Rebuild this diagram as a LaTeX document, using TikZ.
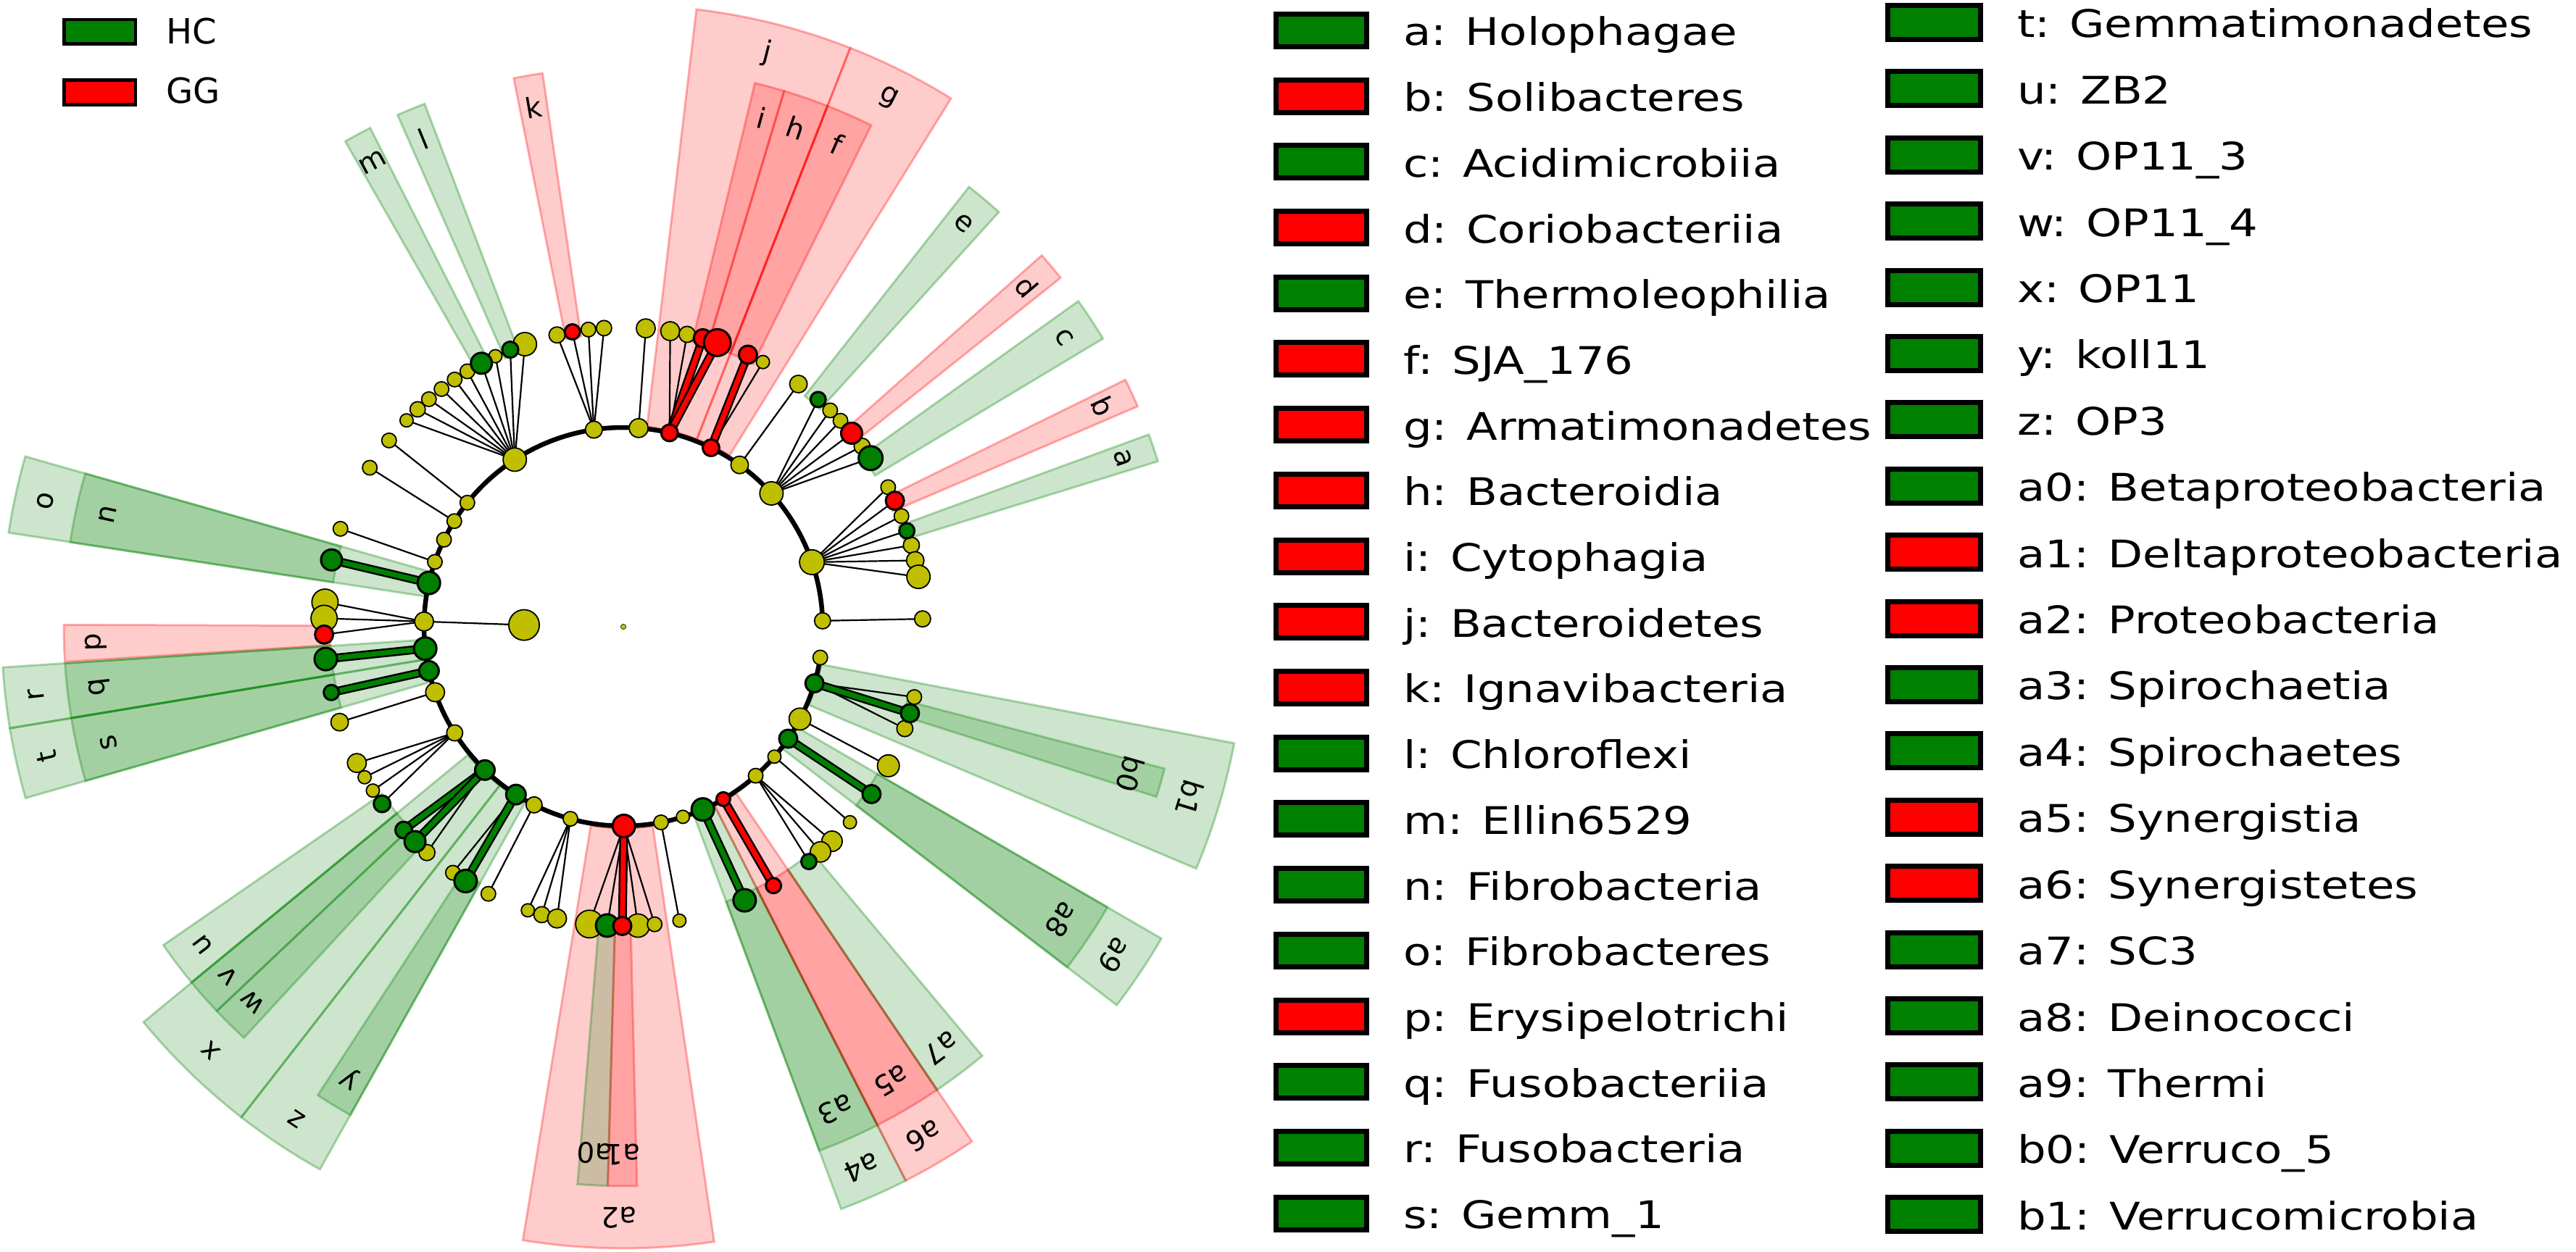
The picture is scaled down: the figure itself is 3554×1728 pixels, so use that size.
\documentclass[tikz,border=0pt]{standalone}
\usepackage{fontspec}
\setmainfont{DejaVu Sans}
\newfontfamily\legfont[FakeStretch=1.19]{DejaVu Sans}
\definecolor{ylw}{RGB}{191,191,0}
\definecolor{grn}{RGB}{0,128,0}
\definecolor{rd0}{RGB}{255,0,0}
\pgfdeclarelayer{wedges}
\pgfdeclarelayer{edges}
\pgfsetlayers{wedges,edges,main}
\tikzset{
  nd/.style={circle, draw=black, inner sep=0pt, outer sep=0pt},
  yn/.style={nd, fill=ylw, line width=1.8pt, minimum size={2*#1-1.8}},
  gn/.style={nd, fill=grn, line width=3pt, minimum size={2*#1-3}},
  rn/.style={nd, fill=rd0, line width=3pt, minimum size={2*#1-3}},
  tedge/.style={draw=black, line width=2.2pt},
  sigbar/.style={draw=black, line width=12pt, postaction={draw=#1, line width=7pt}},
  cladelabel/.style={font=\fontsize{39}{45}\selectfont, inner sep=0pt},
  legtext/.style={font=\legfont\fontsize{52.5}{60}\selectfont, anchor=base west, inner sep=0pt},
  legboxa/.style={rectangle, draw=black, line width=7pt, fill=#1, inner sep=0pt, minimum width=125pt, minimum height=45pt},
  legboxb/.style={rectangle, draw=black, line width=7pt, fill=#1, inner sep=0pt, minimum width=128pt, minimum height=47pt},
  grpbox/.style={rectangle, draw=black, line width=4.6pt, fill=#1, inner sep=0pt, minimum width=98.8pt, minimum height=33.6pt},
  grptext/.style={font=\fontsize{48}{55}\selectfont, anchor=base west, inner sep=0pt},
}
% #1 label, #2 start angle, #3 end angle, #4 inner radius, #5 outer radius, #6 colour, #7 label radius
\newcommand\clade[7]{%
  \filldraw[fill=#6, fill opacity=0.2, draw=#6, draw opacity=0.3, line width=3pt]
    (#2:#4pt) -- (#2:#5pt) arc[start angle=#2, end angle=#3, radius=#5pt]
    -- (#3:#4pt) arc[start angle=#3, end angle=#2, radius=#4pt] -- cycle;
  \pgfmathsetmacro\cmid{(#2+#3)/2}
  \pgfmathsetmacro\crot{\cmid-90}
  \node[cladelabel, rotate=\crot] (lab#1) at (\cmid:#7pt) {#1};
}
\begin{document}
\begin{tikzpicture}[x=1pt,y=1pt]
\useasboundingbox (-860,-863) rectangle (2694,865);

% ---------- nodes: root and kingdom ----------
\node[yn=4.5, line width=0.6pt] (root) at (0,0) {};
\node[yn=22] (K) at (179:137pt) {};

% ---------- phylum nodes (r = 275) ----------
\node[yn=12]   (P01) at (1.7:275pt) {};
\node[yn=18]   (P02) at (18.9:275pt) {};
\node[yn=17]   (P03) at (42:275pt) {};
\node[yn=13]   (P04) at (54.3:275pt) {};
\node[yn=14]   (P07) at (85.6:275pt) {};
\node[yn=12.6] (P08) at (98.5:275pt) {};
\node[yn=17]   (P09) at (123:275pt) {};
\node[yn=11]   (P10) at (141.5:275pt) {};
\node[yn=11]   (P11) at (148:275pt) {};
\node[yn=11]   (P12) at (154.1:275pt) {};
\node[yn=11]   (P13) at (161:275pt) {};
\node[yn=14]   (P15) at (178.5:275pt) {};
\node[yn=14]   (P18) at (199.2:275pt) {};
\node[yn=12]   (P19) at (212.2:275pt) {};
\node[yn=12]   (P22) at (243.4:275pt) {};
\node[yn=11]   (P23) at (254.6:275pt) {};
\node[yn=11]   (P25) at (280.9:275pt) {};
\node[yn=10]   (P26) at (287.4:275pt) {};
\node[yn=11]   (P29) at (311.6:275pt) {};
\node[yn=10]   (P30) at (319.3:275pt) {};
\node[yn=16]   (P32) at (332.4:275pt) {};
\node[yn=11]   (P34) at (351.1:275pt) {};
\node[rn=13]   (P05) at (63.9:275pt) {};
\node[rn=13]   (P06) at (76.6:275pt) {};
\node[gn=17]   (P14) at (167.3:275pt) {};
\node[gn=17]   (P16) at (186.3:275pt) {};
\node[gn=15]   (P17) at (192.8:275pt) {};
\node[gn=15]   (P20) at (226:275pt) {};
\node[gn=15]   (P21) at (237.4:275pt) {};
\node[rn=17]   (P24) at (270.15:275pt) {};
\node[gn=17]   (P27) at (293.5:275pt) {};
\node[rn=11]   (P28) at (300.1:275pt) {};
\node[gn=14]   (P31) at (325.8:275pt) {};
\node[gn=14]   (P33) at (343.5:275pt) {};

% ---------- class nodes (r = 413): non-significant ----------
\node[yn=12] (C01a) at (1.5:413pt) {};
\node[yn=11] (C02a) at (27.8:413pt) {};
\node[yn=11] (C02c) at (21.7:413pt) {};
\node[yn=12] (C02e) at (15.8:413pt) {};
\node[yn=13] (C02f) at (12.8:413pt) {};
\node[yn=17] (C02g) at (9.6:413pt) {};
\node[yn=11] (C03b) at (46.3:413pt) {};
\node[yn=11] (C03c) at (43.5:413pt) {};
\node[yn=12] (C03e) at (37.1:413pt) {};
\node[yn=13] (C04a) at (54.2:413pt) {};
\node[yn=10] (C05b) at (62.2:413pt) {};
\node[yn=14] (C06a) at (81:413pt) {};
\node[yn=12] (C06b) at (77.7:413pt) {};
\node[yn=14] (C07a) at (85.7:413pt) {};
\node[yn=12] (C08a) at (102.8:413pt) {};
\node[yn=11] (C08c) at (96.7:413pt) {};
\node[yn=11.5] (C08d) at (93.7:413pt) {};
\node[yn=10] (C09a) at (136.4:413pt) {};
\node[yn=11.5] (C09b) at (133.4:413pt) {};
\node[yn=11] (C09c) at (130.5:413pt) {};
\node[yn=11] (C09d) at (127.4:413pt) {};
\node[yn=11] (C09e) at (124.3:413pt) {};
\node[yn=11] (C09f) at (121.4:413pt) {};
\node[yn=10] (C09h) at (115.3:413pt) {};
\node[yn=17] (C09j) at (109.2:413pt) {};
\node[yn=11] (C10a) at (141.5:413pt) {};
\node[yn=11] (C11a) at (147.9:413pt) {};
\node[yn=11] (C13a) at (160.9:413pt) {};
\node[yn=19] (C15a) at (175.3:413pt) {};
\node[yn=19] (C15b) at (178.4:413pt) {};
\node[yn=13] (C18a) at (198.6:413pt) {};
\node[yn=14] (C19a) at (207.1:413pt) {};
\node[yn=10] (C19b) at (210.2:413pt) {};
\node[yn=10] (C19c) at (213.2:413pt) {};
\node[yn=12] (C20c) at (229:413pt) {};
\node[yn=11] (C21a) at (235.3:413pt) {};
\node[yn=11] (C22a) at (243.2:413pt) {};
\node[yn=10] (C23a) at (251.4:413pt) {};
\node[yn=12] (C23b) at (254.2:413pt) {};
\node[yn=14] (C23c) at (257.2:413pt) {};
\node[yn=20] (C24a) at (263.5:413pt) {};
\node[yn=17] (C24d) at (272.8:413pt) {};
\node[yn=11] (C24e) at (276:413pt) {};
\node[yn=10] (C25a) at (280.8:413pt) {};
\node[yn=15] (C29a) at (314.2:413pt) {};
\node[yn=15] (C29b) at (311.2:413pt) {};
\node[yn=10] (C30a) at (319.2:413pt) {};
\node[yn=16] (C32a) at (332.3:413pt) {};
\node[yn=11] (C33a) at (346.4:413pt) {};
\node[yn=12] (C33c) at (340.1:413pt) {};
% significant classes
\node[gn=12]   (C02d) at (18.7:413pt) {};
\node[gn=12]   (C03a) at (49.4:413pt) {};
\node[gn=18]   (C03f) at (34.3:413pt) {};
\node[gn=16]   (C09g) at (118.3:413pt) {};
\node[gn=12.6] (C09i) at (112.2:413pt) {};
\node[gn=16]   (C14a) at (167.1:413pt) {};
\node[gn=17]   (C16a) at (186.2:413pt) {};
\node[gn=12]   (C17a) at (192.7:413pt) {};
\node[gn=13]   (C19d) at (216.3:413pt) {};
\node[gn=13]   (C20a) at (222.8:413pt) {};
\node[gn=16]   (C20b) at (225.9:413pt) {};
\node[gn=17]   (C21b) at (238.2:413pt) {};
\node[gn=17]   (C24b) at (266.9:413pt) {};
\node[gn=17]   (C27a) at (293.9:413pt) {};
\node[gn=12]   (C29c) at (308.3:413pt) {};
\node[gn=14]   (C31a) at (326:413pt) {};
\node[gn=14]   (C33b) at (343.2:413pt) {};
\node[rn=14]   (C02b) at (24.9:413pt) {};
\node[rn=16]   (C03d) at (40.3:413pt) {};
\node[rn=14]   (C05a) at (65.4:413pt) {};
\node[rn=14]   (C06c) at (74.6:413pt) {};
\node[rn=20]   (C06d) at (71.7:413pt) {};
\node[rn=12]   (C08b) at (99.8:413pt) {};
\node[rn=14]   (C15c) at (181.5:413pt) {};
\node[rn=14]   (C24c) at (269.8:413pt) {};
\node[rn=12]   (C28a) at (300.1:413pt) {};

% ---------- connectors ----------
\begin{pgfonlayer}{edges}
  \draw[line width=6.5pt] (P01.center) arc[start angle=1.7, end angle=351.1, radius=275pt];
  \draw[tedge] (K.center) -- (P15.center);
  \foreach \a/\b in {P01/C01a,
      P02/C02a, P02/C02b, P02/C02c, P02/C02d, P02/C02e, P02/C02f, P02/C02g,
      P03/C03a, P03/C03b, P03/C03c, P03/C03d, P03/C03e, P03/C03f,
      P04/C04a, P05/C05b, P06/C06a, P06/C06b, P07/C07a,
      P08/C08a, P08/C08b, P08/C08c, P08/C08d,
      P09/C09a, P09/C09b, P09/C09c, P09/C09d, P09/C09e, P09/C09f, P09/C09g, P09/C09h, P09/C09i, P09/C09j,
      P10/C10a, P11/C11a, P13/C13a,
      P15/C15a, P15/C15b, P15/C15c, P18/C18a,
      P19/C19a, P19/C19b, P19/C19c, P19/C19d,
      P20/C20c, P21/C21a, P22/C22a,
      P23/C23a, P23/C23b, P23/C23c,
      P24/C24a, P24/C24b, P24/C24d, P24/C24e,
      P25/C25a, P29/C29a, P29/C29b, P29/C29c, P30/C30a, P32/C32a,
      P33/C33a, P33/C33c}
    \draw[tedge] (\a.center) -- (\b.center);
  \foreach \a/\b/\c in {P05/C05a/rd0, P06/C06c/rd0, P06/C06d/rd0, P14/C14a/grn,
      P16/C16a/grn, P17/C17a/grn, P20/C20a/grn, P20/C20b/grn, P21/C21b/grn,
      P24/C24c/rd0, P27/C27a/grn, P28/C28a/rd0, P31/C31a/grn, P33/C33b/grn}
    \draw[sigbar=\c] (\a.center) -- (\b.center);
\end{pgfonlayer}

% ---------- highlighted clades ----------
\begin{pgfonlayer}{wedges}
  \fill[white] (-860,-863) rectangle (2694,865);
  % phyla
  \clade{g}{58.2}{68.6}{278}{858}{rd0}{816}
  \clade{j}{68.6}{83.25}{278}{858}{rd0}{816}
  \clade{o}{164.1}{171.3}{278}{858}{grn}{816}
  \clade{r}{183.75}{189.4}{278}{858}{grn}{816}
  \clade{t}{189.4}{196}{278}{858}{grn}{816}
  \clade{x}{219.5}{232.1}{278}{858}{grn}{816}
  \clade{z}{232.1}{240.8}{278}{858}{grn}{816}
  \clade{a2}{260.7}{278.4}{278}{858}{rd0}{816}
  \clade{a4}{290.5}{297}{278}{858}{grn}{816}
  \clade{a6}{297}{304.1}{278}{858}{rd0}{816}
  \clade{a9}{322.5}{329.9}{278}{858}{grn}{816}
  \clade{b1}{337.1}{349.2}{278}{858}{grn}{816}
  % classes
  \clade{a}{17.2}{20.1}{405}{772}{grn}{728}
  \clade{b}{23.2}{26.2}{405}{772}{rd0}{728}
  \clade{c}{31}{35.6}{405}{772}{grn}{728}
  \clade{d}{38.6}{41.6}{405}{772}{rd0}{728}
  \clade{e}{47.85}{51.85}{405}{772}{grn}{728}
  \clade{f}{63.7}{68.6}{405}{772}{rd0}{728}
  \clade{h}{68.6}{73.3}{405}{772}{rd0}{728}
  \clade{i}{73.3}{76.4}{405}{772}{rd0}{728}
  \clade{k}{98.3}{101.3}{405}{772}{rd0}{728}
  \clade{l}{110.8}{113.8}{405}{772}{grn}{728}
  \clade{m}{116.9}{119.8}{405}{772}{grn}{728}
  \clade{n}{164.1}{171.3}{405}{772}{grn}{728}
  \clade{p}{179.8}{183.6}{405}{772}{rd0}{728}
  \clade{q}{183.75}{189.4}{405}{772}{grn}{728}
  \clade{s}{189.4}{196}{405}{772}{grn}{728}
  \clade{u}{214.7}{219.5}{405}{772}{grn}{728}
  \clade{v}{219.5}{223.4}{405}{772}{grn}{728}
  \clade{w}{223.4}{227.3}{405}{772}{grn}{728}
  \clade{y}{236.9}{240.8}{405}{772}{grn}{728}
  \clade{a0}{265.3}{268.4}{405}{772}{grn}{728}
  \clade{a1}{268.4}{271.4}{405}{772}{rd0}{728}
  \clade{a3}{290.5}{297}{405}{772}{grn}{728}
  \clade{a5}{297}{304.1}{405}{772}{rd0}{728}
  \clade{a7}{304.1}{309.9}{405}{772}{grn}{728}
  \clade{a8}{322.5}{329.9}{405}{772}{grn}{728}
  \clade{b0}{342.3}{345.3}{405}{772}{grn}{728}
\end{pgfonlayer}

% ---------- group legend ----------
\node[grpbox=grn] (hcbox) at (-722.3,821) {};
\node[grpbox=rd0] (ggbox) at (-722.3,737.5) {};
\node[grptext] (hctext) at (-630.4,804) {HC};
\node[grptext] (ggtext) at (-630.4,722) {GG};

% ---------- clade legend, column 1 ----------
\foreach \col/\txt [count=\i from 0] in {
    grn/{a: Holophagae}, rd0/{b: Solibacteres}, grn/{c: Acidimicrobiia},
    rd0/{d: Coriobacteriia}, grn/{e: Thermoleophilia}, rd0/{f: SJA\_176},
    rd0/{g: Armatimonadetes}, rd0/{h: Bacteroidia}, rd0/{i: Cytophagia},
    rd0/{j: Bacteroidetes}, rd0/{k: Ignavibacteria}, grn/{l: Chloroflexi},
    grn/{m: Ellin6529}, grn/{n: Fibrobacteria}, grn/{o: Fibrobacteres},
    rd0/{p: Erysipelotrichi}, grn/{q: Fusobacteriia}, grn/{r: Fusobacteria},
    grn/{s: Gemm\_1}} {
  \pgfmathsetmacro\yc{823-90.7*\i}
  \node[legboxa=\col] (lba\i) at (963,\yc) {};
  \node[legtext] (lta\i) at (1076,\yc-21) {\txt};
}
% ---------- clade legend, column 2 ----------
\foreach \col/\txt [count=\i from 0] in {
    grn/{t: Gemmatimonadetes}, grn/{u: ZB2}, grn/{v: OP11\_3}, grn/{w: OP11\_4},
    grn/{x: OP11}, grn/{y: koll11}, grn/{z: OP3}, grn/{a0: Betaproteobacteria},
    rd0/{a1: Deltaproteobacteria}, rd0/{a2: Proteobacteria}, grn/{a3: Spirochaetia},
    grn/{a4: Spirochaetes}, rd0/{a5: Synergistia}, rd0/{a6: Synergistetes},
    grn/{a7: SC3}, grn/{a8: Deinococci}, grn/{a9: Thermi}, grn/{b0: Verruco\_5},
    grn/{b1: Verrucomicrobia}} {
  \pgfmathsetmacro\yc{834-91.4*\i}
  \node[legboxb=\col] (lbb\i) at (1808.5,\yc) {};
  \node[legtext] (ltb\i) at (1923,\yc-21) {\txt};
}
\end{tikzpicture}
\end{document}
